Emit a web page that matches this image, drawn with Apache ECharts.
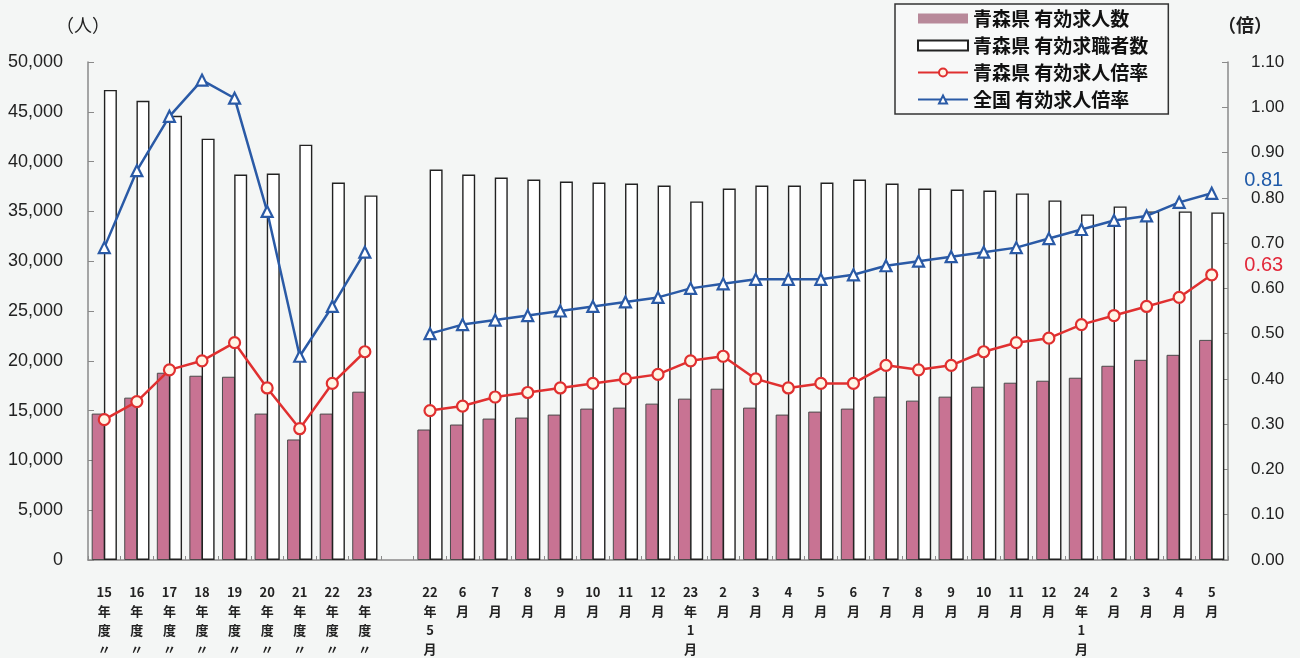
<!DOCTYPE html>
<html>
<head>
<meta charset="utf-8">
<script src="https://cdn.jsdelivr.net/npm/echarts@6/dist/echarts.min.js"></script>
<style>
  html, body { margin: 0; padding: 0; background: #f4f6f5; overflow: hidden; }
  #chart { width: 1300px; height: 658px; }
</style>
</head>
<body>
<div id="chart"></div>
<script>
// Period labels: fiscal years 15–23, a blank spacer, then monthly 22年5月 – 24年5月
const periodLabels = [
  '15\n年\n度\n〃', '16\n年\n度\n〃', '17\n年\n度\n〃', '18\n年\n度\n〃', '19\n年\n度\n〃',
  '20\n年\n度\n〃', '21\n年\n度\n〃', '22\n年\n度\n〃', '23\n年\n度\n〃',
  '',
  '22\n年\n5\n月', '6\n月', '7\n月', '8\n月', '9\n月', '10\n月', '11\n月', '12\n月',
  '23\n年\n1\n月', '2\n月', '3\n月', '4\n月', '5\n月', '6\n月', '7\n月', '8\n月', '9\n月',
  '10\n月', '11\n月', '12\n月',
  '24\n年\n1\n月', '2\n月', '3\n月', '4\n月', '5\n月'
];

// 青森県 有効求人数 (人)
const aomoriOffers = [
  14700, 16300, 18800, 18500, 18400, 14700, 12100, 14700, 16900,
  '-',
  13100, 13600, 14200, 14300, 14600, 15200, 15300, 15700,
  16200, 17200, 15300, 14600, 14900, 15200, 16400, 16000, 16400, 17400, 17800, 18000,
  18300, 19500, 20100, 20600, 22100
];

// 青森県 有効求職者数 (人)
const aomoriSeekers = [
  47200, 46100, 44600, 42300, 38700, 38800, 41700, 37900, 36600,
  '-',
  39200, 38700, 38400, 38200, 38000, 37900, 37800, 37600,
  36000, 37300, 37600, 37600, 37900, 38200, 37800, 37300, 37200, 37100, 36800, 36100,
  34700, 35500, 35000, 35000, 34900
];

// 青森県 有効求人倍率 (倍)
const aomoriRatio = [
  0.31, 0.35, 0.42, 0.44, 0.48, 0.38, 0.29, 0.39, 0.46,
  '-',
  0.33, 0.34, 0.36, 0.37, 0.38, 0.39, 0.40, 0.41,
  0.44, 0.45, 0.40, 0.38, 0.39, 0.39, 0.43, 0.42, 0.43, 0.46, 0.48, 0.49,
  0.52, 0.54, 0.56, 0.58, 0.63
];

// 全国 有効求人倍率 (倍)
const nationalRatio = [
  0.69, 0.86, 0.98, 1.06, 1.02, 0.77, 0.45, 0.56, 0.68,
  '-',
  0.50, 0.52, 0.53, 0.54, 0.55, 0.56, 0.57, 0.58,
  0.60, 0.61, 0.62, 0.62, 0.62, 0.63, 0.65, 0.66, 0.67, 0.68, 0.69, 0.71,
  0.73, 0.75, 0.76, 0.79, 0.81
];

const TEXT = '#222';
const AXIS = '#8a8a8a';
const NUM_FONT = '"Liberation Sans", Arial, sans-serif';
const JP_FONT = '"Noto Sans CJK JP", sans-serif';

// Put the latest value next to the right axis
function withEndLabel(values, color, offsetY) {
  const out = values.slice();
  const last = out.length - 1;
  out[last] = {
    value: values[last],
    label: {
      show: true,
      position: 'right',
      distance: 26,
      offset: [0, offsetY],
      formatter: (p) => Number(p.value).toFixed(2),
      color: color,
      fontSize: 20,
      fontFamily: NUM_FONT
    }
  };
  return out;
}

const chart = echarts.init(document.getElementById('chart'), null, { renderer: 'canvas' });

chart.setOption({
  backgroundColor: '#f4f6f5',
  animation: false,
  grid: { left: 88, right: 72, top: 62, bottom: 98, containLabel: false, outerBoundsMode: 'none' },
  legend: {
    orient: 'vertical',
    left: 895,
    top: 4,
    itemWidth: 50,
    itemHeight: 10,
    itemGap: 8,
    padding: [5, 20, 5, 22],
    borderColor: '#333',
    borderWidth: 1.5,
    backgroundColor: '#f7f8f8',
    textStyle: { fontSize: 19, fontWeight: 'bold', color: '#111', fontFamily: JP_FONT },
    data: [
      { name: '青森県 有効求人数', icon: 'rect', itemStyle: { color: '#b8899a', borderWidth: 0 } },
      { name: '青森県 有効求職者数', icon: 'rect' },
      { name: '青森県 有効求人倍率' },
      { name: '全国 有効求人倍率' }
    ]
  },
  xAxis: {
    type: 'category',
    data: periodLabels,
    axisLine: { lineStyle: { color: AXIS, width: 1.5 } },
    axisTick: { show: true, inside: true, length: 4, lineStyle: { color: AXIS } },
    axisLabel: {
      interval: 0,
      margin: 23,
      color: TEXT,
      fontSize: 13,
      fontWeight: 'bold',
      lineHeight: 19,
      fontFamily: JP_FONT,
      verticalAlign: 'top'
    },
    splitLine: { show: false }
  },
  yAxis: [
    {
      type: 'value',
      min: 0,
      max: 50000,
      interval: 5000,
      name: '（人）',
      nameLocation: 'end',
      nameGap: 28,
      nameTextStyle: { color: TEXT, fontSize: 18, fontFamily: JP_FONT, padding: [0, 10, 0, 0] },
      axisLine: { show: true, lineStyle: { color: AXIS, width: 1.5 } },
      axisTick: { show: true, inside: true, length: 6, lineStyle: { color: AXIS } },
      axisLabel: {
        margin: 25,
        color: TEXT,
        fontSize: 18,
        fontFamily: NUM_FONT,
        formatter: (v) => v.toLocaleString('en-US')
      },
      splitLine: { show: false }
    },
    {
      type: 'value',
      min: 0,
      max: 1.1,
      interval: 0.1,
      name: '（倍）',
      nameLocation: 'end',
      nameGap: 28,
      nameTextStyle: { color: TEXT, fontSize: 18, fontWeight: 'bold', fontFamily: JP_FONT, padding: [0, 0, 0, 34] },
      axisLine: { show: true, lineStyle: { color: AXIS, width: 1.5 } },
      axisTick: { show: true, inside: true, length: 6, lineStyle: { color: AXIS } },
      axisLabel: {
        margin: 23,
        color: TEXT,
        fontSize: 17,
        fontFamily: NUM_FONT,
        formatter: (v) => v.toFixed(2)
      },
      splitLine: { show: false }
    }
  ],
  series: [
    {
      name: '青森県 有効求人数',
      type: 'bar',
      yAxisIndex: 0,
      data: aomoriOffers,
      barWidth: 13,
      barGap: '-6%',
      itemStyle: { color: '#c87393', borderColor: '#4a4a4a', borderWidth: 1 },
      z: 2
    },
    {
      name: '青森県 有効求職者数',
      type: 'bar',
      yAxisIndex: 0,
      data: aomoriSeekers,
      barWidth: 13,
      itemStyle: { color: '#ffffff', borderColor: '#222', borderWidth: 1.4 },
      z: 2
    },
    {
      name: '青森県 有効求人倍率',
      type: 'line',
      yAxisIndex: 1,
      data: withEndLabel(aomoriRatio, '#e2283a', -9),
      connectNulls: false,
      symbol: 'circle',
      symbolSize: 11,
      showAllSymbol: true,
      lineStyle: { color: '#e03030', width: 2.5 },
      itemStyle: { color: '#fff6e6', borderColor: '#e03030', borderWidth: 2.2 },
      z: 5
    },
    {
      name: '全国 有効求人倍率',
      type: 'line',
      yAxisIndex: 1,
      data: withEndLabel(nationalRatio, '#1f5aa8', -13),
      connectNulls: false,
      symbol: 'triangle',
      symbolSize: 11,
      showAllSymbol: true,
      lineStyle: { color: '#2a5aa6', width: 2.5 },
      itemStyle: { color: '#ffffff', borderColor: '#2a5aa6', borderWidth: 2.2 },
      z: 6
    }
  ]
});
</script>
</body>
</html>
